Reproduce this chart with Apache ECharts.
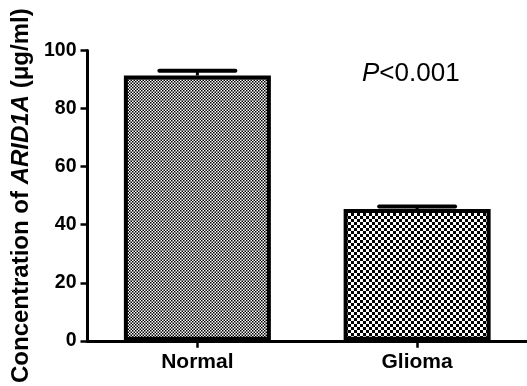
<!DOCTYPE html>
<html>
<head>
<meta charset="utf-8">
<script src="https://cdn.jsdelivr.net/npm/echarts@6/dist/echarts.min.js"></script>
<style>html,body{margin:0;padding:0;background:#fff}#c{width:527px;height:386px}</style>
</head>
<body>
<div id="c"></div>
<script>
const categories = ['Normal', 'Glioma'];
const means = [91.4, 45.4];
const errors = [1.6, 0.9];
const yTicks = [0, 20, 40, 60, 80, 100];
const pText = 'P<0.001';

function makePattern(period, cell) {
  const cv = document.createElement('canvas');
  cv.width = period * 2; cv.height = period * 2;
  const ctx = cv.getContext('2d');
  ctx.fillStyle = '#fff'; ctx.fillRect(0, 0, cv.width, cv.height);
  ctx.fillStyle = '#000';
  for (let i = 0; i < 2; i++) for (let j = 0; j < 2; j++) {
    ctx.fillRect(i * period, j * period, cell, cell);
    ctx.fillRect(i * period + cell, j * period + cell, cell, cell);
  }
  return cv;
}
const fine = makePattern(3, 1.5);
const coarse = makePattern(6, 3);
const patterns = [fine, coarse];

const FONT = '"Liberation Sans", Arial, sans-serif';
const chart = echarts.init(document.getElementById('c'), null, {renderer: 'canvas'});
chart.setOption({
  animation: false,
  backgroundColor: '#fff',
  grid: {left: 87.5, right: -4, top: 50.5, bottom: 44, containLabel: false},
  xAxis: {
    type: 'category', data: categories,
    axisLine: {lineStyle: {color: '#000', width: 3}},
    axisTick: {show: true, alignWithLabel: true, length: 7, lineStyle: {color: '#000', width: 2.5}},
    axisLabel: {color: '#000', fontWeight: 'bold', fontSize: 21, fontFamily: FONT, margin: 11}
  },
  yAxis: {
    type: 'value', min: yTicks[0], max: yTicks[yTicks.length - 1], interval: 20,
    splitLine: {show: false},
    axisLine: {show: true, lineStyle: {color: '#000', width: 3}},
    axisTick: {show: true, length: 7, lineStyle: {color: '#000', width: 2.5}},
    axisLabel: {color: '#000', fontWeight: 'bold', fontSize: 19.5, fontFamily: FONT, margin: 11},
    name: 'Concentration of {i|ARID1A} (μg/ml)',
    nameLocation: 'middle', nameRotate: 90, nameGap: 51,
    nameTextStyle: {color: '#000', fontWeight: 'bold', fontSize: 24, fontFamily: FONT,
      rich: {i: {fontStyle: 'italic', fontWeight: 'bold', fontSize: 24, fontFamily: FONT, color: '#000'}}}
  },
  series: [{
    type: 'bar', barWidth: 147,
    data: means.map((v, i) => ({value: v, itemStyle: {color: {image: patterns[i], repeat: 'repeat'}}})),
    itemStyle: {borderColor: '#000', borderWidth: 4}
  }, {
    type: 'custom', z: 5,
    data: categories.map((c, i) => [i, means[i], errors[i]]),
    renderItem: function (params, api) {
      const top = api.coord([api.value(0), api.value(1) + api.value(2)]);
      const base = api.coord([api.value(0), api.value(1)]);
      return {type: 'group', children: [
        {type: 'line', shape: {x1: top[0], y1: top[1], x2: base[0], y2: base[1]}, style: {stroke: '#000', lineWidth: 3}},
        {type: 'line', shape: {x1: top[0] - 38, y1: top[1], x2: top[0] + 38, y2: top[1]}, style: {stroke: '#000', lineWidth: 4, lineCap: 'round'}}
      ]};
    }
  }],
  graphic: [{
    type: 'text', left: 362, top: 61,
    style: {text: '{i|P}<0.001', fontSize: 26, fontFamily: FONT, fill: '#000',
      rich: {i: {fontStyle: 'italic', fontSize: 26, fontFamily: FONT, fill: '#000'}}}
  }]
});
</script>
</body>
</html>
